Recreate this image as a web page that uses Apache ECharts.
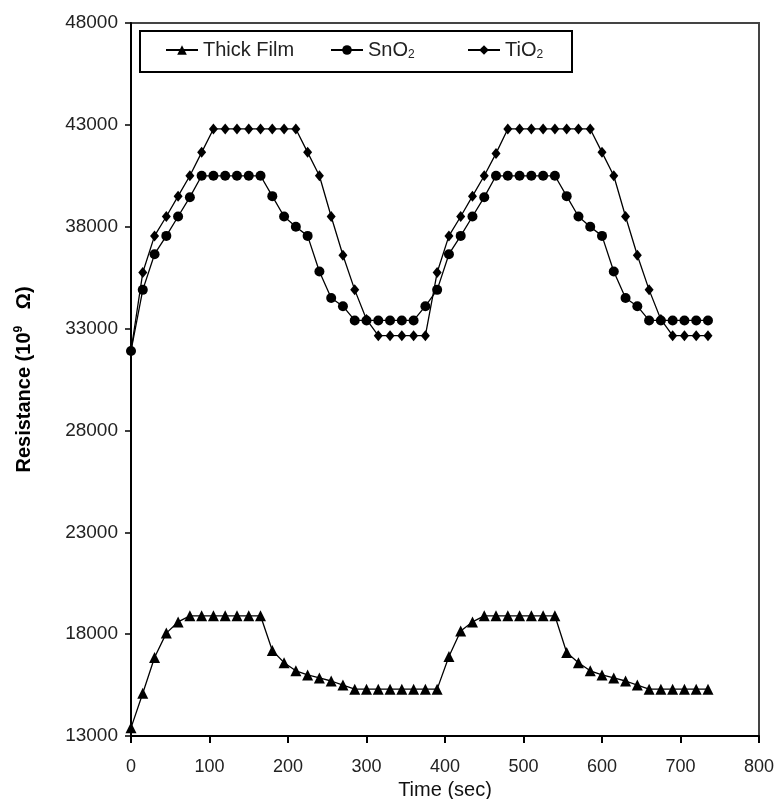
<!DOCTYPE html>
<html>
<head>
<meta charset="utf-8">
<script src="https://cdn.jsdelivr.net/npm/echarts@6/dist/echarts.min.js"></script>
<style>
  html, body { margin: 0; padding: 0; background: #fff; }
  #chart { width: 778px; height: 799px; }
</style>
</head>
<body>
<div id="chart"></div>
<script>
// time (sec)
var times = [0, 15, 30, 45, 60, 75, 90, 105, 120, 135, 150, 165, 180, 195, 210, 225, 240, 255, 270, 285,
  300, 315, 330, 345, 360, 375, 390, 405, 420, 435, 450, 465, 480, 495, 510, 525, 540, 555, 570, 585,
  600, 615, 630, 645, 660, 675, 690, 705, 720, 735];

var thickFilm = [13400, 15100, 16850, 18050, 18600, 18900, 18900, 18900, 18900, 18900, 18900, 18900,
  17200, 16600, 16200, 16000, 15850, 15700, 15500, 15300, 15300, 15300, 15300, 15300, 15300, 15300, 15300,
  16900, 18150, 18600, 18900, 18900, 18900, 18900, 18900, 18900, 18900,
  17100, 16600, 16200, 16000, 15850, 15700, 15500, 15300, 15300, 15300, 15300, 15300, 15300];

var snO2 = [31900, 34900, 36650, 37550, 38500, 39450, 40500, 40500, 40500, 40500, 40500, 40500,
  39500, 38500, 38000, 37550, 35800, 34500, 34100, 33400, 33400, 33400, 33400, 33400, 33400,
  34100, 34900, 36650, 37550, 38500, 39450, 40500, 40500, 40500, 40500, 40500, 40500,
  39500, 38500, 38000, 37550, 35800, 34500, 34100, 33400, 33400, 33400, 33400, 33400, 33400];

var tiO2 = [31900, 35750, 37550, 38500, 39500, 40500, 41650, 42800, 42800, 42800, 42800, 42800, 42800, 42800, 42800,
  41650, 40500, 38500, 36600, 34900, 33450, 32650, 32650, 32650, 32650, 32650,
  35750, 37550, 38500, 39500, 40500, 41600, 42800, 42800, 42800, 42800, 42800, 42800, 42800, 42800,
  41650, 40500, 38500, 36600, 34900, 33450, 32650, 32650, 32650, 32650];

var yTicks = [13000, 18000, 23000, 28000, 33000, 38000, 43000, 48000];

function pairs(vals) {
  return vals.map(function (v, i) { return [times[i], v]; });
}

var font = 'Liberation Sans, Arial, sans-serif';

var chart = echarts.init(document.getElementById('chart'));

function legendAt(left, name) {
  return {
    left: left,
    top: 40,
    padding: 0,
    itemWidth: 32,
    itemHeight: 12,
    itemGap: 6,
    z: 10,
    selectedMode: false,
    data: [name],
    formatter: function (n) {
      if (n === 'SnO2') return 'SnO{sub|2}';
      if (n === 'TiO2') return 'TiO{sub|2}';
      return n;
    },
    textStyle: {
      fontFamily: font,
      fontSize: 20,
      color: '#222',
      rich: {
        sub: { fontFamily: font, fontSize: 12, color: '#222', padding: [9, 0, 0, 0] }
      }
    }
  };
}

chart.setOption({
  animation: false,
  backgroundColor: '#fff',
  grid: {
    left: 131, right: 19, top: 23, bottom: 63,
    outerBoundsMode: 'none',
    containLabel: false,
    show: true, borderColor: '#444', borderWidth: 2
  },
  graphic: [{
    type: 'rect',
    z: 5,
    shape: { x: 140, y: 31, width: 432, height: 41 },
    style: { fill: '#fff', stroke: '#000', lineWidth: 2 }
  }],
  legend: [legendAt(165, 'Thick Film'), legendAt(330, 'SnO2'), legendAt(467, 'TiO2')],
  xAxis: {
    type: 'value',
    min: 0, max: 800, interval: 100,
    name: 'Time (sec)',
    nameLocation: 'middle',
    nameGap: 42,
    nameTextStyle: { fontFamily: font, fontSize: 20, color: '#111' },
    axisLine: { lineStyle: { color: '#000', width: 2 } },
    axisTick: { inside: false, length: 7, lineStyle: { color: '#000', width: 2 } },
    axisLabel: { margin: 22, fontFamily: font, fontSize: 18, color: '#222' },
    splitLine: { show: false }
  },
  yAxis: {
    type: 'value',
    min: 13000, max: 48000,
    name: 'Resistance (10{sup|9}   Ω)',
    nameLocation: 'middle',
    nameGap: 96,
    nameTextStyle: {
      fontFamily: font, fontSize: 20, fontWeight: 'bold', color: '#000',
      rich: { sup: { fontFamily: font, fontSize: 12, fontWeight: 'bold', color: '#000', padding: [0, 0, 10, 0] } }
    },
    axisLine: { show: true, lineStyle: { color: '#000', width: 2 } },
    axisTick: { show: true, length: 6, customValues: yTicks, lineStyle: { color: '#000', width: 1.5 } },
    axisLabel: {
      margin: 13, fontFamily: font, fontSize: 19, color: '#222', customValues: yTicks,
      formatter: function (v) { return String(v); }
    },
    splitLine: { show: false }
  },
  series: [{
    name: 'Thick Film',
    type: 'line',
    data: pairs(thickFilm),
    symbol: 'triangle',
    symbolSize: 11,
    lineStyle: { color: '#000', width: 1.3 },
    itemStyle: { color: '#000' }
  }, {
    name: 'SnO2',
    type: 'line',
    data: pairs(snO2),
    symbol: 'circle',
    symbolSize: 10,
    lineStyle: { color: '#000', width: 1.3 },
    itemStyle: { color: '#000' }
  }, {
    name: 'TiO2',
    type: 'line',
    data: pairs(tiO2),
    symbol: 'diamond',
    symbolSize: [9, 11],
    lineStyle: { color: '#000', width: 1.3 },
    itemStyle: { color: '#000' }
  }]
});
</script>
</body>
</html>
